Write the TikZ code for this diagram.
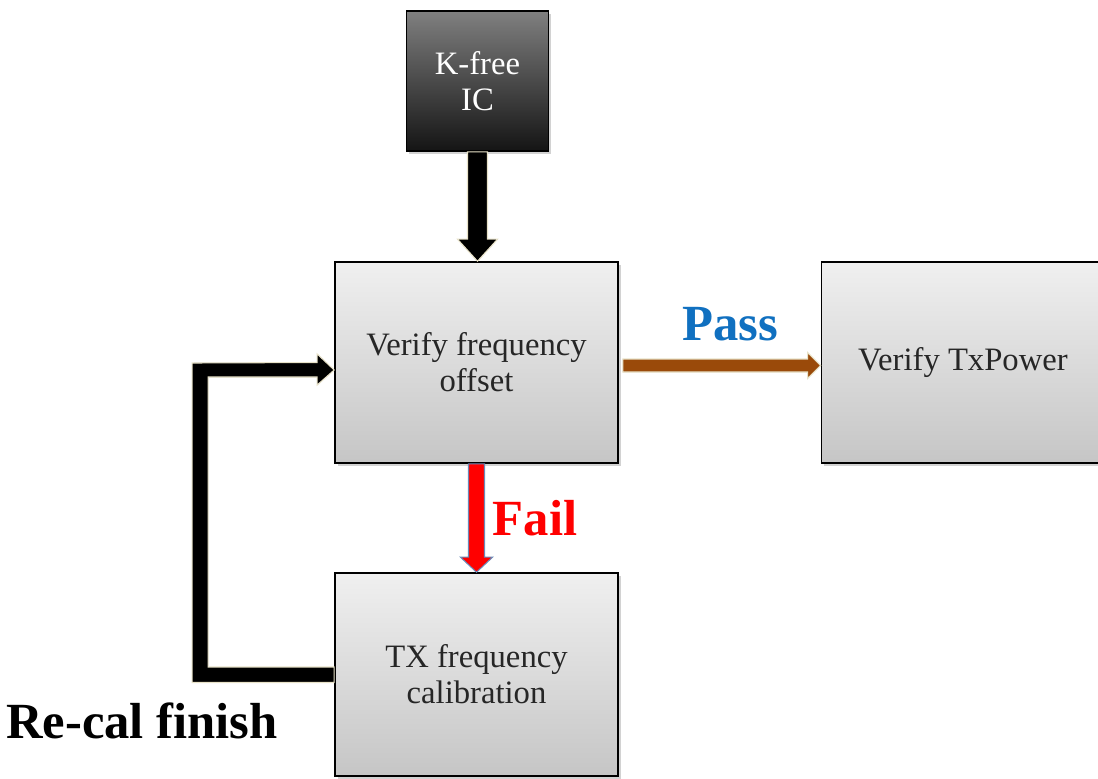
\documentclass[tikz,border=0pt]{standalone}
\usepackage{fontspec}
\setmainfont{Liberation Serif}
\usetikzlibrary{calc,shadows}
\definecolor{passblue}{HTML}{1070C0}
\definecolor{passbrown}{HTML}{9A4A0A}
\definecolor{arrowedge}{HTML}{E8E2C8}
\definecolor{failedge}{HTML}{6A8AB8}
\tikzset{
  lightbox/.style={draw=black, line width=1.2pt, top color=gray!12, bottom color=gray!45,
    minimum width=283*0.75pt, minimum height=201*0.75pt, align=center, font=\fontsize{24.5}{27}\selectfont,
    text=black!85, inner sep=0pt, drop shadow={opacity=0.35, shadow xshift=2pt, shadow yshift=-2pt}},
  darkbox/.style={draw=black, line width=1.2pt, top color=black!50, bottom color=black!92,
    minimum width=142*0.75pt, minimum height=140*0.75pt, align=center, font=\fontsize{24.5}{27}\selectfont,
    text=white, inner sep=0pt, drop shadow={opacity=0.35, shadow xshift=2pt, shadow yshift=-2pt}},
  bigbold/.style={font=\fontsize{38}{40}\selectfont\bfseries},
  blackarrow/.style={fill=black, draw=arrowedge, line width=0.8pt, line join=miter},
}
\begin{document}
\begin{tikzpicture}[x=0.75pt, y=-0.75pt]
\useasboundingbox (0,0) rectangle (1098,778);
\fill[white] (0,0) rectangle (1098,778);

% boxes
\node[darkbox] (kf) at (477.5,81) {K-free\\IC};
\node[lightbox] (vfo) at (476.5,362.5) {Verify frequency\\offset};
\node[lightbox, minimum width=283*0.75pt] (vtp) at (963,362.5) {Verify TxPower};
\node[lightbox, minimum height=203*0.75pt] (txc) at (476.5,674.5) {TX frequency\\calibration};

% K-free -> verify (black down arrow)
\coordinate (kt) at (kf.south |- vfo.north);
\filldraw[blackarrow]
  ($(kf.south)+(-10,0)$) -- ($(kf.south)+(10,0)$) -- ($(kt)+(10,-22)$)
  -- ($(kt)+(20,-22)$) -- (kt) -- ($(kt)+(-20,-22)$)
  -- ($(kt)+(-10,-22)$) -- cycle;

% Pass arrow (brown)
\coordinate (pe) at ($(vtp.west)+(0,3)$);
\coordinate (ps) at ($(vfo.east)+(4,3)$);
\filldraw[fill=passbrown, draw=arrowedge, line width=0.8pt]
  ($(ps)+(0,-6.5)$) -- ($(pe)+(-13,-6.5)$) -- ($(pe)+(-13,-13)$)
  -- (pe) -- ($(pe)+(-13,13)$) -- ($(pe)+(-13,6.5)$)
  -- ($(ps)+(0,6.5)$) -- cycle;
\node[bigbold, text=passblue] (pass) at (730,324) {Pass};

% Fail arrow (red)
\filldraw[fill=red, draw=failedge, line width=0.8pt]
  ($(vfo.south)+(-8,0)$) -- ($(vfo.south)+(8,0)$) -- ($(txc.north)+(8,-15)$)
  -- ($(txc.north)+(16,-15)$) -- (txc.north) -- ($(txc.north)+(-16,-15)$)
  -- ($(txc.north)+(-8,-15)$) -- cycle;
\node[bigbold, text=red] (fail) at (535,518) {Fail};

% loop back
\coordinate (lb) at ($(txc.west)+(-142,0)$);
\coordinate (lt) at ($(vfo.west)+(-142,7.5)$);
\filldraw[blackarrow]
  ($(txc.west)+(0,-7.5)$) -- ($(lb)+(16,-7.5)$) -- ($(lt)+(16,7)$)
  -- ($(vfo.west)+(-17,14.5)$) -- ($(vfo.west)+(-17,22.5)$) -- ($(vfo.west)+(0,7.5)$)
  -- ($(vfo.west)+(-17,-8.5)$) -- ($(vfo.west)+(-17,0)$) -- ($(lt)+(0,-7)$)
  -- ($(lb)+(0,8)$) -- ($(txc.west)+(0,8)$) -- cycle;
\node[bigbold, text=black] (recal) at (142,721) {Re-cal finish};
\end{tikzpicture}
\end{document}
